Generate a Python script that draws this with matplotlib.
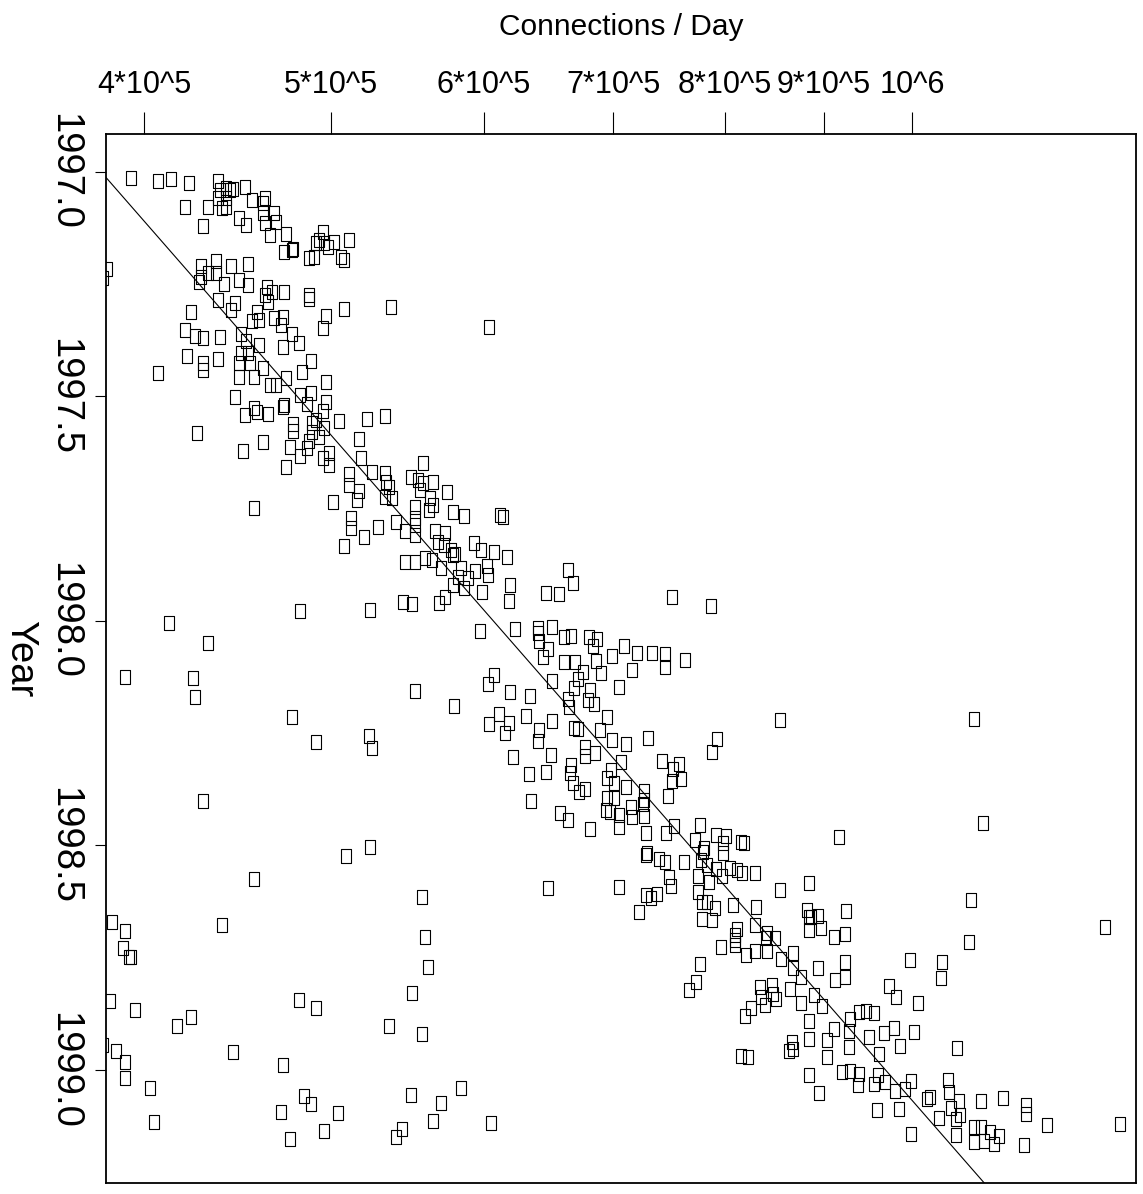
import numpy as np
import matplotlib
matplotlib.use("Agg")
import matplotlib.pyplot as plt
from matplotlib.ticker import NullLocator

# connections per day (thousands) and the year of each measurement
conn_k = [
    394, 407, 413, 422, 437, 438, 441, 443, 445, 441, 437, 439, 441, 451, 455, 462, 461, 461, 462, 467,
    468, 420, 432, 448, 452, 429, 465, 474, 473, 477, 478, 487, 490, 495, 493, 496, 498, 502, 511, 506,
    508, 491, 428, 428, 427, 436, 436, 432, 444, 453, 448, 453, 440, 463, 462, 466, 473, 464, 487, 487,
    437, 446, 444, 423, 458, 455, 459, 467, 472, 471, 497, 508, 537, 495, 420, 425, 429, 438, 449, 452,
    459, 477, 481, 472, 421, 429, 429, 437, 449, 453, 454, 448, 488, 483, 497, 407, 448, 456, 461, 474,
    383, 381, 465, 468, 604,
    446, 451, 456, 458, 464, 473, 472, 482, 488, 486, 497, 495, 478, 478, 489, 491, 489, 496, 487, 486,
    493, 495, 499, 499, 505, 522, 533, 517, 426, 461, 450, 476, 482, 474, 518, 511, 511, 517, 516, 501,
    525, 533, 534, 536, 533, 538, 558, 550, 555, 558, 565, 556, 563, 565, 562, 574, 578, 553, 553, 553,
    553, 546, 540, 529, 512, 512, 520, 508, 456, 566, 573, 568, 572, 577, 578, 546, 553, 559, 564, 570,
    578, 573, 569, 545, 551, 524, 482, 412, 432,
    586, 612, 614, 580, 593, 598, 607, 617, 584, 582, 589, 594, 602, 603, 586, 599, 619, 618, 663, 667,
    646, 656, 751, 787, 597, 623, 640, 640, 641, 651, 660, 666, 648, 644, 680, 687, 683, 699, 709, 720,
    733, 745, 763, 660, 669, 686,
    607, 603, 619, 634, 651, 675, 671, 668, 690, 681, 679, 684, 716, 705, 745, 579, 663, 664, 695, 689,
    611, 604, 618, 615, 631, 651, 668, 671, 641, 640, 699, 711, 730, 677, 677, 685, 650, 621, 707, 742,
    757, 752, 751, 759, 666, 665, 667, 672, 677, 646, 633, 698, 695, 701, 711, 726, 726, 747, 695, 701,
    694, 697, 705, 715, 716, 725, 726, 728, 705, 681, 635, 657, 663, 753, 746, 776, 772, 780, 779, 791,
    801, 798, 798, 815, 818, 729, 728, 739, 745, 762, 777, 783, 791, 805, 811, 816, 829, 797, 775, 785,
    748, 750, 775, 778, 783, 790, 778, 788, 808, 830, 829, 811, 810, 841, 849, 854, 884, 882, 884, 884,
    854, 792, 788, 648, 705, 728, 732, 738, 722,
    391, 424, 425, 553, 477, 491, 523, 525, 429, 524, 509, 456, 557, 385, 391, 439, 559,
    390, 393, 394, 561, 551, 536, 557, 384, 396, 416, 423, 481, 491, 445, 472, 387, 391, 391, 403, 405,
    484, 488, 471, 504, 496, 476, 550, 570, 565, 544, 540, 381,
    584, 605, 776, 773, 766, 796, 810, 810, 820, 829, 841, 840, 855, 868, 868, 876, 834, 835, 846, 847,
    850, 839, 825, 819, 864, 876, 884, 884, 866, 868, 863, 815, 822, 884,
    1077, 1088, 916, 1073, 894, 886, 924, 897, 911, 923, 1259, 1070,
    923, 894, 912, 923, 997, 1036, 1035, 973, 981, 1007, 890, 898, 929, 939, 946, 955, 911, 927, 903, 927,
    950, 967, 979, 1002, 986, 961, 903, 1055, 895, 920, 928, 939, 937, 955, 960, 968, 980, 992, 999, 959,
    984, 999, 1018, 1022, 1044, 1045, 1057, 1048, 1059, 1054, 1033, 1054, 1086, 1115, 1146, 1145, 1175, 1282, 1077, 1086,
    1097, 1109, 1077, 1090, 1102, 1142,
]
years = [
    1997.015, 1997.020, 1997.017, 1997.025, 1997.021, 1997.041, 1997.037, 1997.041, 1997.039, 1997.059,
    1997.059, 1997.081, 1997.078, 1997.033, 1997.063, 1997.059, 1997.070, 1997.093, 1997.114, 1997.093,
    1997.111, 1997.079, 1997.078, 1997.102, 1997.119, 1997.122, 1997.141, 1997.139, 1997.178, 1997.174,
    1997.173, 1997.193, 1997.189, 1997.134, 1997.152, 1997.159, 1997.167, 1997.156, 1997.152, 1997.191,
    1997.197, 1997.159, 1997.211, 1997.234, 1997.245, 1997.198, 1997.226, 1997.226, 1997.211, 1997.205,
    1997.241, 1997.252, 1997.250, 1997.256, 1997.274, 1997.267, 1997.267, 1997.289, 1997.274, 1997.284,
    1997.286, 1997.292, 1997.308, 1997.313, 1997.312, 1997.332, 1997.330, 1997.326, 1997.323, 1997.341,
    1997.321, 1997.305, 1997.302, 1997.349, 1997.352, 1997.366, 1997.371, 1997.369, 1997.361, 1997.378,
    1997.386, 1997.361, 1997.382, 1997.390, 1997.410, 1997.427, 1997.441, 1997.418, 1997.403, 1997.404,
    1997.427, 1997.425, 1997.421, 1997.447, 1997.468, 1997.449, 1997.456, 1997.456, 1997.438, 1997.460,
    1997.217, 1997.237, 1997.475, 1997.475, 1997.346,
    1997.501, 1997.542, 1997.527, 1997.534, 1997.539, 1997.519, 1997.523, 1997.497, 1997.493, 1997.518,
    1997.512, 1997.533, 1997.562, 1997.577, 1997.560, 1997.553, 1997.579, 1997.571, 1997.600, 1997.616,
    1997.590, 1997.638, 1997.627, 1997.653, 1997.555, 1997.551, 1997.543, 1997.596, 1997.582, 1997.601,
    1997.621, 1997.614, 1997.634, 1997.657, 1997.637, 1997.674, 1997.697, 1997.711, 1997.732, 1997.735,
    1997.669, 1997.671, 1997.690, 1997.703, 1997.724, 1997.727, 1997.648, 1997.679, 1997.686, 1997.694,
    1997.691, 1997.709, 1997.727, 1997.742, 1997.753, 1997.714, 1997.757, 1997.746, 1997.772, 1997.787,
    1997.809, 1997.801, 1997.781, 1997.790, 1997.772, 1997.794, 1997.813, 1997.833, 1997.749, 1997.801,
    1997.805, 1997.824, 1997.831, 1997.842, 1997.853, 1997.868, 1997.870, 1997.861, 1997.864, 1997.882,
    1997.920, 1997.946, 1997.961, 1997.959, 1997.963, 1997.976, 1997.978, 1998.004, 1998.050,
    1997.766, 1997.764, 1997.769, 1997.852, 1997.826, 1997.842, 1997.846, 1997.858, 1997.883, 1997.902,
    1997.904, 1997.890, 1997.878, 1997.898, 1997.927, 1997.936, 1997.920, 1997.955, 1997.887, 1997.916,
    1997.939, 1997.941, 1997.946, 1997.967, 1998.022, 1998.018, 1998.016, 1998.028, 1998.044, 1998.013,
    1998.037, 1998.033, 1998.063, 1998.081, 1998.035, 1998.040, 1998.055, 1998.078, 1998.057, 1998.072,
    1998.071, 1998.074, 1998.087, 1998.091, 1998.092, 1998.089,
    1998.120, 1998.140, 1998.159, 1998.167, 1998.135, 1998.113, 1998.130, 1998.150, 1998.117, 1998.154,
    1998.176, 1998.186, 1998.109, 1998.148, 1998.102, 1998.189, 1998.175, 1998.191, 1998.215, 1998.244,
    1998.207, 1998.229, 1998.228, 1998.249, 1998.211, 1998.224, 1998.239, 1998.241, 1998.244, 1998.267,
    1998.265, 1998.274, 1998.260, 1998.281, 1998.302, 1998.295, 1998.298, 1998.304, 1998.315, 1998.313,
    1998.319, 1998.330, 1998.356, 1998.353, 1998.321, 1998.339, 1998.362, 1998.380, 1998.374, 1998.337,
    1998.342, 1998.332, 1998.350, 1998.362, 1998.371, 1998.379, 1998.399, 1998.391, 1998.394, 1998.394,
    1998.421, 1998.425, 1998.432, 1998.415, 1998.436, 1998.408, 1998.434, 1998.473, 1998.459, 1998.463,
    1998.400, 1998.427, 1998.443, 1998.456, 1998.473, 1998.454, 1998.488, 1998.506, 1998.514, 1998.477,
    1998.479, 1998.495, 1998.516, 1998.492, 1998.495, 1998.517, 1998.521, 1998.531, 1998.538, 1998.536,
    1998.532, 1998.543, 1998.553, 1998.551, 1998.555, 1998.562, 1998.561, 1998.568, 1998.569, 1998.581,
    1998.571, 1998.590, 1998.603, 1998.627, 1998.626, 1998.640, 1998.664, 1998.666, 1998.632, 1998.638,
    1998.678, 1998.687, 1998.699, 1998.695, 1998.707, 1998.599, 1998.583, 1998.644, 1998.659, 1998.688,
    1998.221, 1998.263, 1998.293, 1998.594, 1998.592, 1998.610, 1998.618, 1998.608, 1998.649,
    1998.126, 1998.128, 1998.169, 1998.156, 1998.213, 1998.270, 1998.256, 1998.284, 1998.402, 1998.504,
    1998.523, 1998.575, 1998.614, 1998.671, 1998.690, 1998.677, 1998.703,
    1998.728, 1998.748, 1998.749, 1998.771, 1998.828, 1998.901, 1998.920, 1998.846, 1998.866, 1998.903,
    1998.882, 1998.844, 1998.862, 1998.960, 1998.989, 1998.957, 1998.983, 1999.018, 1999.039, 1999.115,
    1999.058, 1999.076, 1999.093, 1999.096, 1999.135, 1999.153, 1999.055, 1999.074, 1999.113, 1999.131,
    1999.150, 1998.944,
    1999.041, 1999.118, 1998.764, 1998.803, 1998.822, 1998.726, 1998.710, 1998.721, 1998.745, 1998.735,
    1998.736, 1998.705, 1998.753, 1998.740, 1998.772, 1998.792, 1998.816, 1998.837, 1998.810, 1998.831,
    1998.842, 1998.855, 1998.861, 1998.879, 1998.819, 1998.850, 1998.892, 1998.931, 1998.937, 1998.953,
    1998.957, 1998.968, 1998.970, 1999.012,
    1998.219, 1998.451, 1998.482, 1998.621, 1998.657, 1998.660, 1998.646, 1998.684, 1998.703, 1998.697,
    1998.681, 1998.715,
    1998.759, 1998.773, 1998.799, 1998.794, 1998.756, 1998.760, 1998.796, 1998.812, 1998.838, 1998.851,
    1998.833, 1998.857, 1998.886, 1998.870, 1998.869, 1998.874, 1998.909, 1998.913, 1998.933, 1998.948,
    1998.926, 1998.917, 1998.907, 1998.916, 1998.946, 1998.964, 1998.972, 1998.950, 1999.052, 1999.004,
    1999.002, 1999.009, 1999.033, 1999.031, 1999.011, 1999.027, 1999.046, 1999.042, 1999.024, 1999.090,
    1999.087, 1999.142, 1999.064, 1999.059, 1999.022, 1999.048, 1999.069, 1999.084, 1999.100, 1999.109,
    1999.106, 1999.144, 1999.068, 1999.063, 1999.078, 1999.098, 1999.122, 1999.121, 1999.126, 1999.128,
    1999.138, 1999.148, 1999.161, 1999.159, 1999.165, 1999.167,
]

# end points of the fitted trend line
fit_conn_k = [382, 1090]
fit_year = [1997.011, 1999.252]

xtick_k = [400, 500, 600, 700, 800, 900, 1000]
xtick_labels = ["4*10^5", "5*10^5", "6*10^5", "7*10^5", "8*10^5", "9*10^5", "10^6"]
ytick_vals = [1997.0, 1997.5, 1998.0, 1998.5, 1999.0]

font = ["Liberation Sans", "DejaVu Sans"]

fig = plt.figure(figsize=(11.43, 11.94), dpi=100)
ax = fig.add_axes([0.0925, 0.0092, 0.9014, 0.8786])
ax.set_xscale("log")

x = np.array(conn_k) * 1000.0
# tall open rectangle marker
box = [(-0.385, -0.5), (0.385, -0.5), (0.385, 0.5), (-0.385, 0.5), (-0.385, -0.5)]
ax.plot(x, years, linestyle="none", marker=box, markersize=9.4,
        mfc="none", mec="black", mew=0.8)

# trend line, extended past the frame and clipped
lx = np.log10(np.array(fit_conn_k) * 1000.0)
k, b = np.polyfit(lx, fit_year, 1)
xx = np.array([3.7e5, 1.4e6])
ax.plot(xx, k * np.log10(xx) + b, color="black", lw=0.8)

ax.set_xlim(382.2e3, 1306e3)
ax.set_ylim(1999.2516, 1996.916)

ax.xaxis.tick_top()
ax.xaxis.set_minor_locator(NullLocator())
ax.set_xticks(np.array(xtick_k) * 1000.0)
ax.set_xticklabels(xtick_labels, family=font, fontsize=22)
ax.tick_params(axis="x", direction="out", length=15.8, width=0.8, pad=9, colors="black")

ax.set_yticks(ytick_vals)
ax.set_yticklabels(["%.1f" % v for v in ytick_vals], family=font, fontsize=27.5,
                   rotation=270, va="center")
ax.tick_params(axis="y", direction="out", length=8, width=0.8, pad=9)

for s in ax.spines.values():
    s.set_linewidth(1.3)

ax.xaxis.set_label_position("top")
ax.set_xlabel("Connections / Day", family=font, fontsize=21.5)
ax.xaxis.set_label_coords(0.5, 1.102)
ax.xaxis.label.set_va("center")

ax.set_ylabel("Year", family=font, fontsize=27.5, rotation=270)
ax.yaxis.set_label_coords(-0.083, 0.5)
ax.yaxis.label.set_va("center")
ax.yaxis.label.set_ha("center")

fig.savefig("out.png", dpi=100)
